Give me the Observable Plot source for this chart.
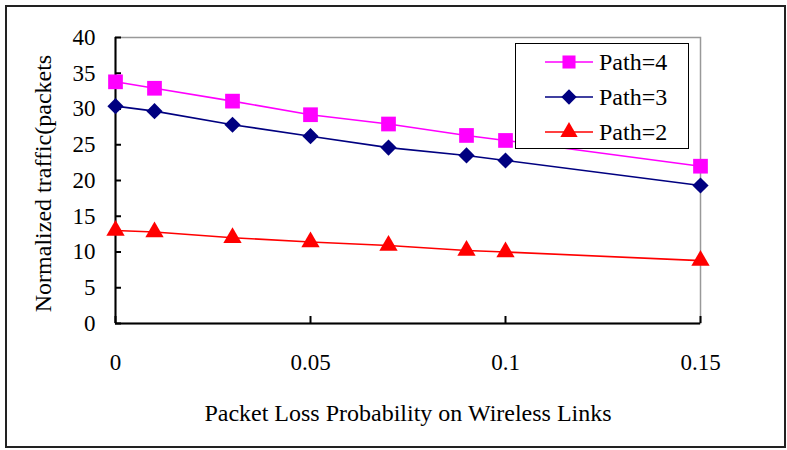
<!DOCTYPE html>
<html>
<head>
<meta charset="utf-8">
<script src="https://cdn.jsdelivr.net/npm/d3@7"></script>
<script src="https://cdn.jsdelivr.net/npm/@observablehq/plot@0.6"></script>
<style>
  html, body { margin: 0; padding: 0; background: #fff; }
  #wrap { position: relative; width: 787px; height: 450px; }
  #border { position: absolute; left: 5px; top: 5px; width: 777px; height: 439px; border: 2px solid #222; pointer-events: none; }
  #legend { position: absolute; left: 515px; top: 43px; width: 172px; height: 104px; border: 1.5px solid #000; background: #fff; }
  svg { font-family: "Liberation Serif", "Times New Roman", serif; }
</style>
</head>
<body>
<div id="wrap">
  <div id="chart"></div>
  <div id="border"></div>
  <div id="legend"></div>
</div>
<script>
const lossProb = [0, 0.01, 0.03, 0.05, 0.07, 0.09, 0.1, 0.15];
const path4 = [33.8, 32.9, 31.1, 29.2, 27.9, 26.3, 25.6, 22.0];
const path3 = [30.4, 29.7, 27.8, 26.2, 24.6, 23.5, 22.8, 19.3];
const path2 = [13.0, 12.8, 12.0, 11.4, 10.9, 10.2, 10.0, 8.8];
const seriesNames = ["Path=4", "Path=3", "Path=2"];
const seriesColors = ["#FF00FF", "#000080", "#FF0000"];
const seriesSymbols = ["square", "diamond2", "triangle"];
const seriesR = [8.3, 7.3, 6.8];
const xTicks = [0, 0.05, 0.1, 0.15];
const xTickLabels = ["0", "0.05", "0.1", "0.15"];
const yTicks = [0, 5, 10, 15, 20, 25, 30, 35, 40];

const seriesValues = [path4, path3, path2];
const data = [];
seriesNames.forEach((name, i) => {
  lossProb.forEach((x, j) => data.push({series: name, x, y: seriesValues[i][j]}));
});

const marks = [
  Plot.frame({stroke: "#999", strokeWidth: 1.5}),
  Plot.axisY({ticks: yTicks, label: null, tickSize: 0, tickPadding: 20, fontSize: 23, tickFormat: d => String(d)}),
  Plot.axisY({ticks: yTicks, label: null, tickSize: -6, tickFormat: () => "", strokeWidth: 2}),
  Plot.axisX({ticks: xTicks, label: null, tickSize: 0, tickPadding: 30, fontSize: 23, tickFormat: d => xTickLabels[xTicks.indexOf(d)]}),
  Plot.axisX({ticks: xTicks, label: null, tickSize: -7, tickFormat: () => "", strokeWidth: 2}),
  Plot.ruleX([0], {stroke: "#000", strokeWidth: 2}),
  Plot.ruleY([0], {stroke: "#000", strokeWidth: 2}),
];
seriesNames.forEach((name, i) => {
  const d = data.filter(p => p.series === name);
  marks.push(Plot.line(d, {x: "x", y: "y", stroke: seriesColors[i], strokeWidth: 1.6}));
});
seriesNames.slice().reverse().forEach((name) => {
  const i = seriesNames.indexOf(name);
  const d = data.filter(p => p.series === name);
  marks.push(Plot.dot(d, {x: "x", y: "y", symbol: () => seriesSymbols[i], r: seriesR[i], fill: seriesColors[i], stroke: "none"}));
});
marks.push(Plot.text(["Packet Loss Probability on Wireless Links"], {frameAnchor: "bottom", dy: 97, fontSize: 24, fill: "#000"}));
marks.push(Plot.text(["Normalized traffic(packets"], {frameAnchor: "left", textAnchor: "middle", rotate: -90, dx: -72, dy: 3, fontSize: 24, fill: "#000"}));

const chart = Plot.plot({
  width: 787,
  height: 450,
  marginLeft: 115,
  marginRight: 87,
  marginTop: 37,
  marginBottom: 127,
  style: {fontFamily: "Liberation Serif, Times New Roman, serif", color: "#000", background: "transparent"},
  x: {domain: [0, 0.15], axis: null},
  y: {domain: [0, 40], axis: null},
  marks
});
document.getElementById("chart").appendChild(chart);

// legend
const leg = d3.select("#legend").append("svg").attr("width", 172).attr("height", 104)
  .style("font-family", "Liberation Serif, Times New Roman, serif");
const symMap = {square: d3.symbolSquare, diamond2: d3.symbolDiamond2, triangle: d3.symbolTriangle};
const legSizes = [170, 150, 130];
seriesNames.forEach((name, i) => {
  const g = leg.append("g").attr("transform", `translate(0, ${18 + i * 35})`);
  g.append("line").attr("x1", 29).attr("x2", 77).attr("stroke", seriesColors[i]).attr("stroke-width", 1.6);
  g.append("path").attr("transform", "translate(53,0)")
    .attr("d", d3.symbol(symMap[seriesSymbols[i]], legSizes[i])()).attr("fill", seriesColors[i]);
  g.append("text").attr("x", 83).attr("dy", "0.35em").attr("font-size", 24).text(name);
});
</script>
</body>
</html>
